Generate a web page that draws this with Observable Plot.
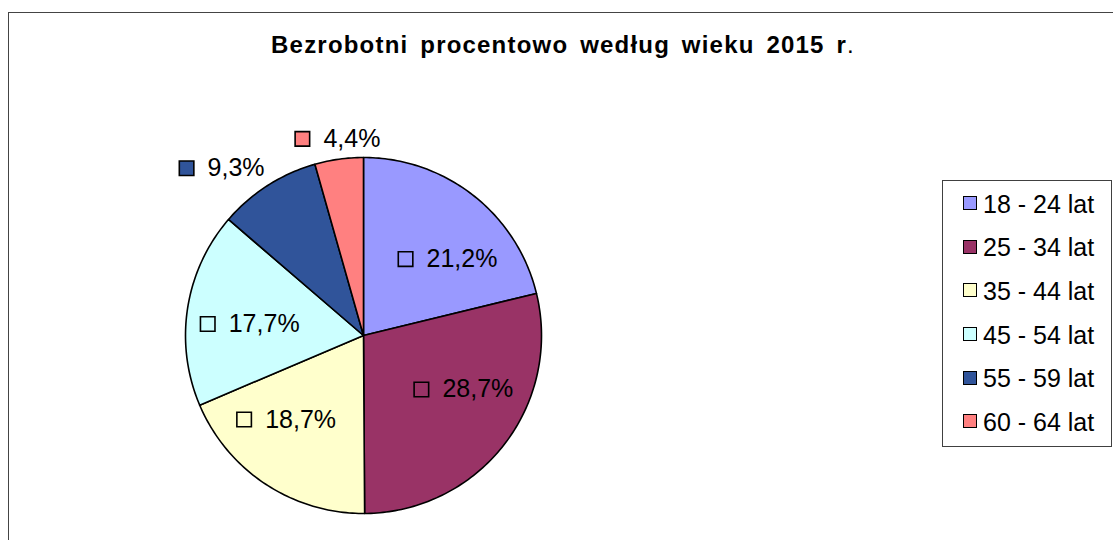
<!DOCTYPE html>
<html>
<head>
<meta charset="utf-8">
<script src="https://cdn.jsdelivr.net/npm/d3@7"></script>
<script src="https://cdn.jsdelivr.net/npm/@observablehq/plot@0.6"></script>
<style>
  html, body { margin: 0; padding: 0; background: #fff; }
  #wrap { position: relative; width: 1113px; height: 540px; overflow: hidden; font-family: "Liberation Sans", Arial, sans-serif; }
  #frame { position: absolute; left: 8px; top: 12px; width: 2000px; height: 2000px; border-left: 1.5px solid #444; border-top: 1.5px solid #444; }
  #title { position: relative; box-sizing: border-box; height: 60px; padding-top: 33px; padding-left: 13px; line-height: 24px;
           text-align: center; font-size: 24px; font-weight: bold; letter-spacing: 1.2px; word-spacing: 4px; color: #000; }
  #title .dot { font-weight: normal; }
  #chart svg { display: block; }
  #legend { position: absolute; left: 942px; top: 180px; width: 170px; height: 267px; box-sizing: border-box;
            border: 1.5px solid #404040; background: #fff; }
  .item { position: absolute; left: 0; height: 30px; width: 170px; }
  .sw { position: absolute; left: 20px; width: 12px; height: 12px; border: 1.6px solid #000; }
  .lt { position: absolute; left: 40px; font-size: 25px; line-height: 30px; white-space: nowrap; color: #000; }
</style>
</head>
<body>
<div id="wrap">
  <div id="frame"></div>
  <div id="title">Bezrobotni procentowo według wieku 2015 r<span class="dot">.</span></div>
  <div id="chart"></div>
  <div id="legend"></div>
</div>
<script>
// ---- data ----
const ages = ["18 - 24 lat", "25 - 34 lat", "35 - 44 lat", "45 - 54 lat", "55 - 59 lat", "60 - 64 lat"];
const shares = [21.2, 28.7, 18.7, 17.7, 9.3, 4.4];
const colors = ["#9999FF", "#993366", "#FFFFCC", "#CCFFFF", "#30549A", "#FF8080"];

// ---- layout ----
const W = 1113, H = 480;
const CX = 363, CY = 275, R = 178; // pie centre and radius in px (svg coords)
const fontPx = 25;

const total = d3.sum(shares);
const fmt = v => v.toFixed(1).replace(".", ",") + "%";

const ctx = document.createElement("canvas").getContext("2d");
ctx.font = `${fontPx}px "Liberation Sans"`;

// slice polygons (unit circle coordinates, y up)
const polys = [];
const labels = [];
let acc = 0;
ages.forEach((age, i) => {
  const a0 = acc / total * 2 * Math.PI;
  acc += shares[i];
  const a1 = acc / total * 2 * Math.PI;
  polys.push({age, x: 0, y: 0});
  const n = Math.max(2, Math.ceil((a1 - a0) / (Math.PI / 180)));
  for (let k = 0; k <= n; k++) {
    const a = a0 + (a1 - a0) * k / n;
    polys.push({age, x: Math.sin(a), y: Math.cos(a)});
  }
  // label placement ("best fit"-like)
  const m = (a0 + a1) / 2;
  const text = fmt(shares[i]);
  const tw = ctx.measureText(text).width;
  const w = 28 + tw, h = fontPx;
  let lx, ly;
  if (shares[i] >= 10) {
    const mm = m + (10 * Math.PI / 180) * Math.sin(2 * m); // wide labels drift toward horizontal
    lx = 0.64 * Math.sin(mm); ly = 0.64 * Math.cos(mm);
  } else {
    const s = Math.sin(m), c = Math.cos(m);
    const rr = 1 + 8 / R;
    const f = Math.max(0, Math.min(1, (Math.abs(s) - 0.15) * 2.5));
    const sx = Math.sign(s) * f * w / 2;
    const sy = c * h / 2;
    lx = rr * s + sx / R; ly = rr * c + sy / R;
  }
  labels.push({age, text, sx: lx - (w / 2 - 7) / R, sy: ly});
});

const chart = Plot.plot({
  width: W, height: H,
  marginTop: 0, marginRight: 0, marginBottom: 0, marginLeft: 0,
  x: {domain: [-CX / R, (W - CX) / R], axis: null},
  y: {domain: [-(H - CY) / R, CY / R], axis: null},
  color: {domain: ages, range: colors},
  style: {fontFamily: '"Liberation Sans", Arial, sans-serif', background: "transparent"},
  marks: [
    Plot.line(polys, {x: "x", y: "y", z: "age", fill: "age", stroke: "#000", strokeWidth: 1.6, curve: "linear-closed", strokeLinejoin: "round"}),
    Plot.dot(labels, {x: "sx", y: "sy", symbol: "square", r: 8.2, fill: "age", stroke: "#000", strokeWidth: 1.6}),
    Plot.text(labels, {x: "sx", y: "sy", text: "text", dx: 21, textAnchor: "start", fontSize: fontPx, fill: "#000"})
  ]
});
document.getElementById("chart").appendChild(chart);

// legend
const leg = document.getElementById("legend");
ages.forEach((age, i) => {
  const cy = 204.3 + 43.6 * i - 180;
  const it = document.createElement("div");
  it.className = "item";
  it.style.top = (cy - 15 - 1.5) + "px";
  const sw = document.createElement("div");
  sw.className = "sw";
  sw.style.top = (15 - 7.6) + "px";
  sw.style.background = colors[i];
  const lt = document.createElement("div");
  lt.className = "lt";
  lt.style.top = "0px";
  lt.textContent = age;
  it.appendChild(sw); it.appendChild(lt);
  leg.appendChild(it);
});
</script>
</body>
</html>
